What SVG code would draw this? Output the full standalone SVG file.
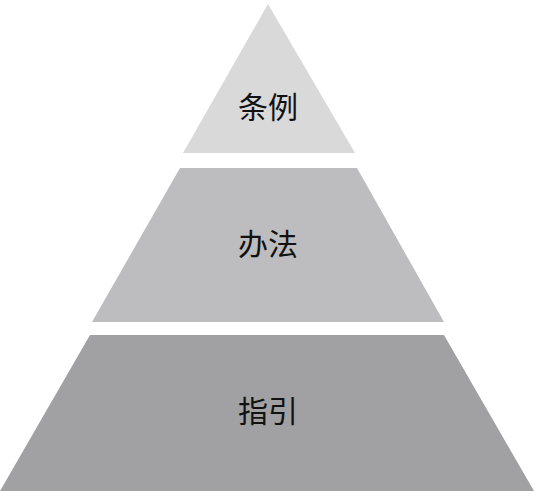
<svg xmlns="http://www.w3.org/2000/svg" width="537" height="491" viewBox="0 0 537 491">
<style>
.lbl{font-family:"Noto Sans CJK SC","Liberation Sans",sans-serif;font-size:30px;fill:#111;text-anchor:middle}
</style>
<rect width="537" height="491" fill="#fff"/>
<g id="tier-top">
<polygon points="268,4 355,153 183,153" fill="#d9d9da"/>
<text class="lbl" x="268" y="118">条例</text>
</g>
<g id="tier-middle">
<polygon points="180,168 357,168 444,322 92,322" fill="#bdbdbf"/>
<text class="lbl" x="268" y="255">办法</text>
</g>
<g id="tier-bottom">
<polygon points="90,335 444,335 534,491 0,491" fill="#a1a1a4"/>
<text class="lbl" x="268" y="422">指引</text>
</g>
<g id="connectors"/>
</svg>
